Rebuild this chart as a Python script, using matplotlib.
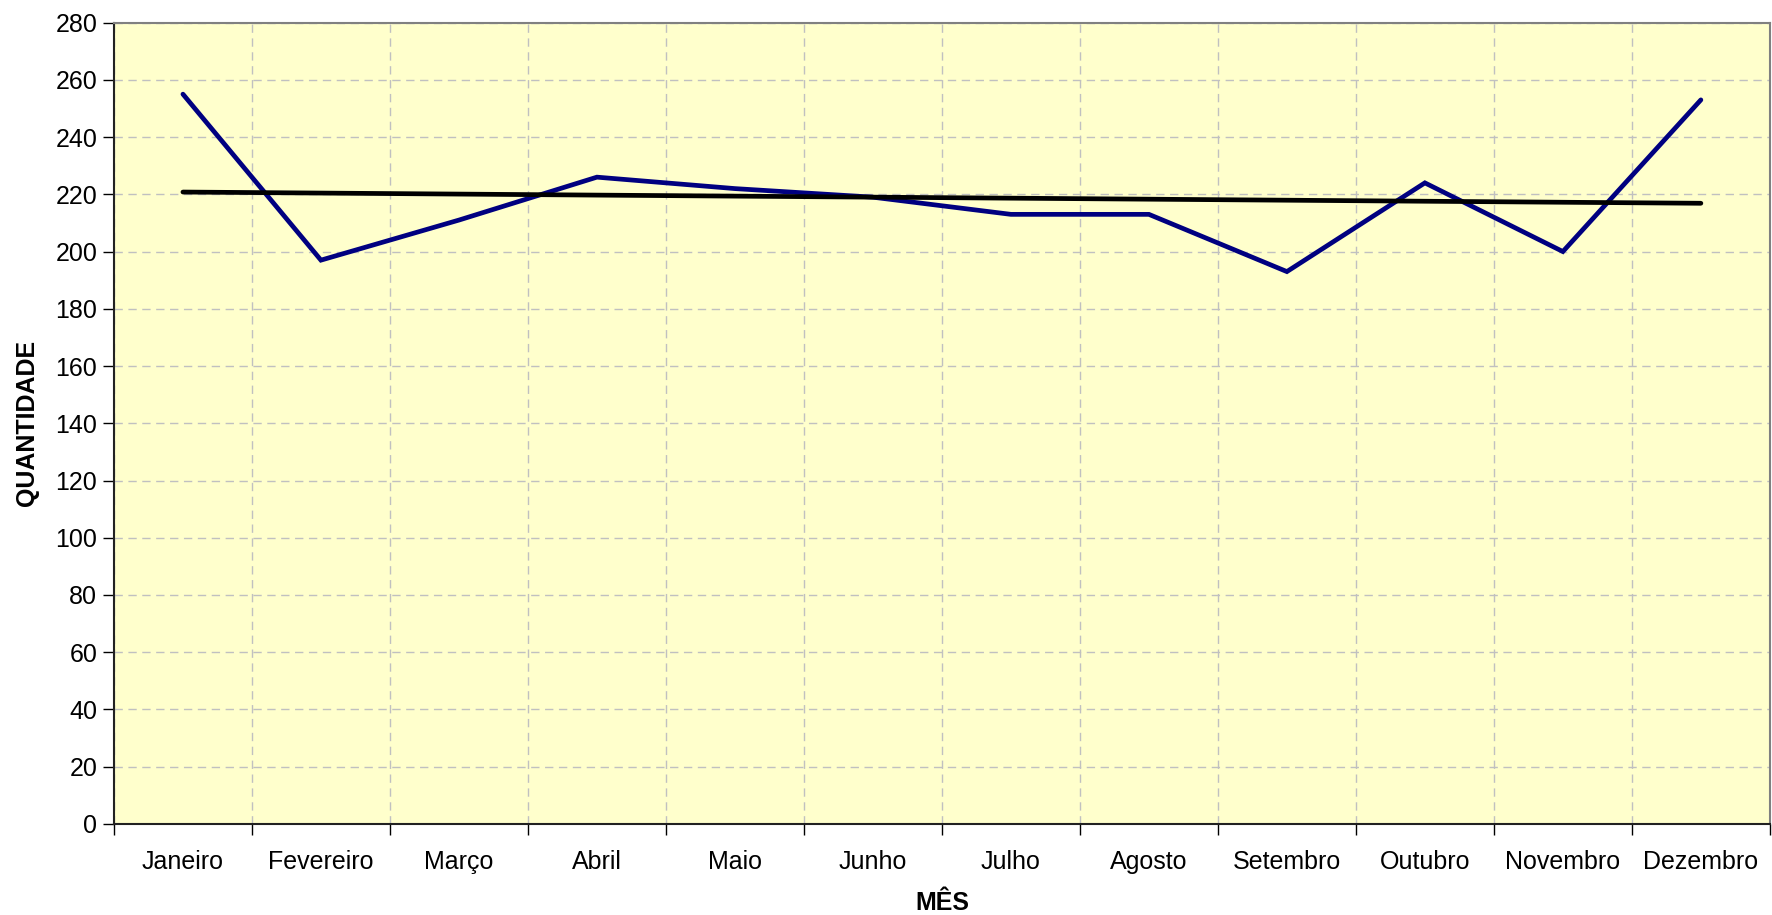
import numpy as np
import matplotlib.pyplot as plt

plt.rcParams["font.family"] = ["Liberation Sans", "DejaVu Sans"]

meses = ["Janeiro", "Fevereiro", "Março", "Abril", "Maio", "Junho",
         "Julho", "Agosto", "Setembro", "Outubro", "Novembro", "Dezembro"]
quantidade = [255, 197, 211, 226, 222, 219, 213, 213, 193, 224, 200, 253]
y_ticks = list(range(0, 281, 20))

x = np.arange(len(meses))

# linear trend line, as in the spreadsheet original
coef = np.polyfit(x, quantidade, 1)
tendencia = np.polyval(coef, x)

fig = plt.figure(figsize=(17.72, 9.15), dpi=100)
ax = fig.add_axes([0.0643, 0.0995, 0.9345, 0.8758])
ax.set_facecolor("#FFFFCC")

ax.plot(x, quantidade, color="#000080", lw=3.4, solid_capstyle="round",
        solid_joinstyle="miter", zorder=3)
ax.plot(x, tendencia, color="black", lw=3.4, solid_capstyle="round", zorder=4)

ax.set_xlim(-0.5, len(meses) - 0.5)
ax.set_ylim(0, 280)
ax.set_yticks(y_ticks)

# boundaries get the tick marks and grid, centres get the labels
ax.set_xticks(np.arange(-0.5, len(meses), 1))
ax.set_xticklabels([])
ax.set_xticks(x, minor=True)
ax.set_xticklabels(meses, minor=True)
ax.tick_params(axis="x", which="major", length=8, width=1, color="black")
ax.tick_params(axis="x", which="minor", length=0, pad=19, labelsize=18)
ax.tick_params(axis="y", length=8, width=1, labelsize=18, pad=4)

ax.grid(True, which="major", color="#C0C0C0", linestyle=(0, (6, 4)), lw=1)
ax.set_axisbelow(True)

for side in ["left", "bottom"]:
    ax.spines[side].set_color("#222222")
    ax.spines[side].set_linewidth(1.5)
for side in ["top", "right"]:
    ax.spines[side].set_color("#808080")
    ax.spines[side].set_linewidth(1.5)

ax.set_xlabel("MÊS", fontsize=18, fontweight="bold", labelpad=12)
ax.set_ylabel("QUANTIDADE", fontsize=18, fontweight="bold", labelpad=12)

fig.savefig("out.png", dpi=100)
